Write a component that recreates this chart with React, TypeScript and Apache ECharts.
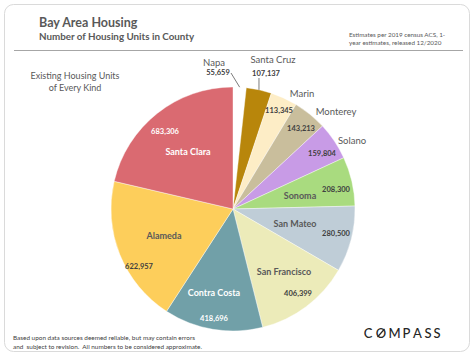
import React, { useEffect, useRef } from "react";
import * as echarts from "echarts";

const counties = ["Napa", "Santa Cruz", "Marin", "Monterey", "Solano", "Sonoma", "San Mateo", "San Francisco", "Contra Costa", "Alameda", "Santa Clara"];
const housingUnits = [55659, 107137, 113345, 143213, 159804, 208300, 280500, 406399, 418696, 622957, 683306];
const sliceColors = ["#FFFFFF", "#B8860B", "#FDEDC6", "#C9BE9C", "#C89BE6", "#A9DB7F", "#BFCDD7", "#ECEBB9", "#71A0A8", "#FDCE5B", "#DA6A71"];

// label placement (layout only)
const namePos = [[214, 62], [273, 59], [302, 93], [336, 111], [352, 140], [300, 195], [295, 223], [284, 271], [214, 292], [164, 235], [188, 151]];
const valuePos = [[218, 72], [266, 73], [279, 110], [301, 128], [322, 153], [336, 189], [336, 233], [298, 293], [214, 318], [139, 266], [165, 131]];
const outsideNames = [0, 1, 2, 3, 4];
const whiteLabels = [8, 10];
const leaderValues = [0, 1];
const logoLetters = ["C", "O", "M", "P", "A", "S", "S"];
const logoX = [368, 381, 394.5, 406.5, 417.5, 428, 437];

const FONT = "Lato, 'Noto Sans', sans-serif";
const CX = 233;
const CY = 209;
const R = 122;

function midPoint(i: number): number[] {
  const total = housingUnits.reduce((a, b) => a + b, 0);
  let cum = 0;
  for (let k = 0; k < i; k++) cum += housingUnits[k];
  const a = ((cum + housingUnits[i] / 2) / total) * Math.PI * 2;
  return [CX + R * Math.sin(a), CY - R * Math.cos(a)];
}

export default function App() {
  const ref = useRef<HTMLDivElement>(null);
  useEffect(() => {
    const chart = echarts.init(ref.current!, undefined, { renderer: "svg" });

    const nameData = counties.map((n, i) => {
      const outside = outsideNames.includes(i);
      const white = whiteLabels.includes(i);
      return {
        name: n,
        value: housingUnits[i],
        itemStyle: { color: sliceColors[i] },
        label: {
          position: "inside",
          color: white ? "#FFFFFF" : "#595959",
          fontWeight: outside ? "normal" : "bold",
          fontSize: outside ? 9.5 : 9,
        },
      };
    });

    const valueData = counties.map((n, i) => {
      const leader = leaderValues.includes(i);
      const white = whiteLabels.includes(i);
      return {
        name: n,
        value: housingUnits[i],
        label: {
          position: leader ? "outside" : "inside",
          color: white ? "#FFFFFF" : "#404040",
        },
        labelLine: { show: leader },
      };
    });

    const compassEls: any[] = logoLetters.map((ch, i) => ({
      type: "text",
      x: logoX[i],
      y: 333,
      style: {
        text: ch,
        font: `500 13px ${FONT}`,
        fill: "#262626",
        align: "center",
        verticalAlign: "middle",
      },
    }));

    chart.setOption({
      animation: false,
      backgroundColor: "#FFFFFF",
      graphic: [
        {
          type: "rect",
          shape: { x: 4.5, y: 4.5, width: 465, height: 347, r: 9 },
          style: { fill: "#FFFFFF", stroke: "#DADADA", lineWidth: 1 },
          z: -10,
        },
        {
          type: "text",
          x: 39,
          y: 22,
          style: { text: "Bay Area Housing", font: `bold 12.5px ${FONT}`, fill: "#595959", verticalAlign: "middle" },
        },
        {
          type: "text",
          x: 39,
          y: 36,
          style: { text: "Number of Housing Units in County", font: `bold 9.8px ${FONT}`, fill: "#595959", verticalAlign: "middle" },
        },
        {
          type: "line",
          shape: { x1: 14, y1: 50.5, x2: 463, y2: 50.5 },
          style: { stroke: "#A6A6A6", lineWidth: 1 },
        },
        {
          type: "text",
          x: 349,
          y: 34,
          style: { text: "Estimates per 2019 census ACS, 1-", font: `6.3px ${FONT}`, fill: "#595959", verticalAlign: "middle" },
        },
        {
          type: "text",
          x: 349,
          y: 42,
          style: { text: "year estimates, released 12/2020", font: `6.3px ${FONT}`, fill: "#595959", verticalAlign: "middle" },
        },
        {
          type: "text",
          x: 75,
          y: 75,
          style: { text: "Existing Housing Units", font: `9px ${FONT}`, fill: "#595959", align: "center", verticalAlign: "middle" },
        },
        {
          type: "text",
          x: 75,
          y: 87,
          style: { text: "of Every Kind", font: `9px ${FONT}`, fill: "#595959", align: "center", verticalAlign: "middle" },
        },
        {
          type: "text",
          x: 13,
          y: 337,
          style: { text: "Based upon data sources deemed reliable, but may contain errors", font: `6.4px ${FONT}`, fill: "#404040", verticalAlign: "middle" },
        },
        {
          type: "text",
          x: 13,
          y: 346,
          style: { text: "and  subject to revision.  All numbers to be considered approximate.", font: `6.4px ${FONT}`, fill: "#404040", verticalAlign: "middle" },
        },
        ...compassEls,
        {
          type: "line",
          shape: { x1: logoX[1] - 3.5, y1: 337, x2: logoX[1] + 3.5, y2: 329 },
          style: { stroke: "#262626", lineWidth: 1.2 },
        },
      ],
      series: [
        {
          type: "pie",
          center: [CX, CY],
          radius: R,
          startAngle: 90,
          clockwise: true,
          avoidLabelOverlap: false,
          silent: true,
          itemStyle: { borderColor: "#FFFFFF", borderWidth: 0.4 },
          label: {
            show: true,
            formatter: "{b}",
            fontFamily: FONT,
          },
          labelLine: { show: false },
          labelLayout: (p: any) => ({
            x: namePos[p.dataIndex][0],
            y: namePos[p.dataIndex][1],
            align: "center",
            verticalAlign: "middle",
          }),
          data: nameData,
        },
        {
          type: "pie",
          center: [CX, CY],
          radius: R,
          startAngle: 90,
          clockwise: true,
          avoidLabelOverlap: false,
          silent: true,
          z: 3,
          itemStyle: { color: "rgba(0,0,0,0)", borderWidth: 0 },
          label: {
            show: true,
            fontFamily: FONT,
            fontWeight: "bold",
            fontSize: 7.5,
            formatter: (p: any) => Number(p.value).toLocaleString("en-US"),
          },
          labelLine: { lineStyle: { color: "#595959", width: 0.8 } },
          labelLayout: (p: any) => {
            const i = p.dataIndex;
            const out: any = {
              x: valuePos[i][0],
              y: valuePos[i][1],
              align: "center",
              verticalAlign: "middle",
            };
            if (i === 0) {
              const end = midPoint(0);
              out.labelLinePoints = [
                [valuePos[i][0] + 13, valuePos[i][1] + 1],
                [valuePos[i][0] + 13, valuePos[i][1] + 1],
                end,
              ];
            } else if (i === 1) {
              const end = midPoint(1);
              out.labelLinePoints = [
                [end[0], valuePos[i][1] + 5],
                [end[0], valuePos[i][1] + 5],
                end,
              ];
            }
            return out;
          },
          data: valueData,
        },
      ],
    });
    return () => chart.dispose();
  }, []);
  return (
    <div
      ref={ref}
      style={{ position: "absolute", left: 0, top: 0, width: 474, height: 355 }}
    />
  );
}
